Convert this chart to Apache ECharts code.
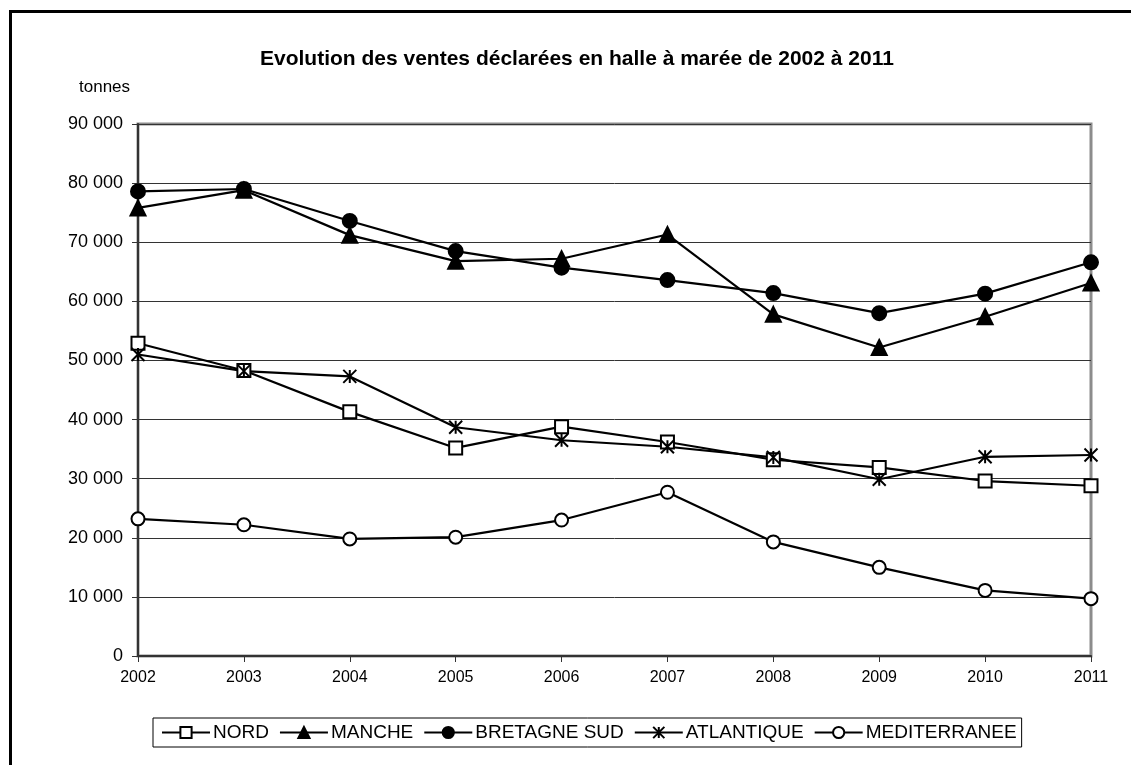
<!DOCTYPE html>
<html>
<head>
<meta charset="utf-8">
<script src="https://cdn.jsdelivr.net/npm/echarts@6/dist/echarts.min.js"></script>
<style>
  html, body { margin: 0; padding: 0; background: #fff; }
  #chart { width: 1131px; height: 765px; }
</style>
</head>
<body>
<div id="chart"></div>
<script>
// ventes declarees en halle a maree, tonnes
const years = ['2002', '2003', '2004', '2005', '2006', '2007', '2008', '2009', '2010', '2011']
const nord = [52900, 48300, 41300, 35200, 38800, 36200, 33200, 31900, 29600, 28800]
const manche = [75800, 78800, 71200, 66800, 67200, 71300, 57800, 52200, 57400, 63100]
const bretagneSud = [78600, 79000, 73600, 68500, 65700, 63600, 61400, 58000, 61300, 66600]
const atlantique = [51000, 48200, 47300, 38700, 36500, 35400, 33600, 29900, 33700, 34000]
const mediterranee = [23200, 22200, 19800, 20100, 23000, 27700, 19300, 15000, 11100, 9700]

const asterisk = 'path://M0,0L10,10M10,0L0,10M5,0L5,10'

function fmt (v) {
  return String(v).replace(/\B(?=(\d{3})+(?!\d))/g, ' ')
}

function makeSeries (name, data, symbol, size, fill) {
  return {
    name,
    type: 'line',
    data,
    symbol,
    symbolSize: size,
    lineStyle: { color: '#000', width: 2.2 },
    itemStyle: { color: fill, borderColor: '#000', borderWidth: 2 },
    emphasis: { disabled: true },
    animation: false
  }
}

const chart = echarts.init(document.getElementById('chart'), null, { renderer: 'canvas' })

chart.setOption({
  backgroundColor: '#fff',
  textStyle: { fontFamily: "'Liberation Sans', Arial, sans-serif", color: '#000' },
  title: [{
    text: 'Evolution des ventes déclarées en halle à marée de 2002 à 2011',
    left: 255,
    top: 44,
    textStyle: { fontSize: 21, fontWeight: 'bold', color: '#000' }
  }, {
    text: 'tonnes',
    left: 74,
    top: 74,
    textStyle: { fontSize: 17, fontWeight: 'normal', color: '#000' }
  }],
  graphic: [{
    type: 'rect',
    shape: { x: 10.5, y: 11.5, width: 1200, height: 900 },
    style: { fill: 'none', stroke: '#000', lineWidth: 3 },
    silent: true
  }],
  legend: {
    left: 153,
    top: 718,
    padding: [5, 5, 5, 8],
    itemGap: 10,
    itemWidth: 48,
    itemHeight: 14,
    borderColor: '#000',
    borderWidth: 1,
    textStyle: { fontSize: 19, color: '#000', padding: [0, 0, 0, -2] },
    data: ['NORD', 'MANCHE', 'BRETAGNE SUD', 'ATLANTIQUE', 'MEDITERRANEE']
  },
  grid: {
    left: 138,
    right: 40,
    top: 124,
    bottom: 109,
    show: true,
    borderColor: '#8c8c8c',
    borderWidth: 3
  },
  xAxis: {
    type: 'category',
    data: years,
    boundaryGap: false,
    axisLine: { lineStyle: { color: '#333', width: 2 } },
    axisTick: { show: true, length: 6, lineStyle: { color: '#333' } },
    axisLabel: { fontSize: 16, color: '#000', margin: 14 }
  },
  yAxis: {
    type: 'value',
    min: 0,
    max: 90000,
    interval: 10000,
    axisLine: { show: true, lineStyle: { color: '#333', width: 2 } },
    axisTick: { show: true, length: 6, lineStyle: { color: '#333' } },
    axisLabel: { fontSize: 18, color: '#000', margin: 15, formatter: fmt },
    splitLine: { lineStyle: { color: '#333', width: 1 } }
  },
  series: [
    makeSeries('NORD', nord, 'rect', 13, '#fff'),
    makeSeries('MANCHE', manche, 'triangle', 15, '#000'),
    makeSeries('BRETAGNE SUD', bretagneSud, 'circle', 14, '#000'),
    makeSeries('ATLANTIQUE', atlantique, asterisk, 13, 'none'),
    makeSeries('MEDITERRANEE', mediterranee, 'circle', 13, '#fff')
  ]
})
</script>
</body>
</html>
